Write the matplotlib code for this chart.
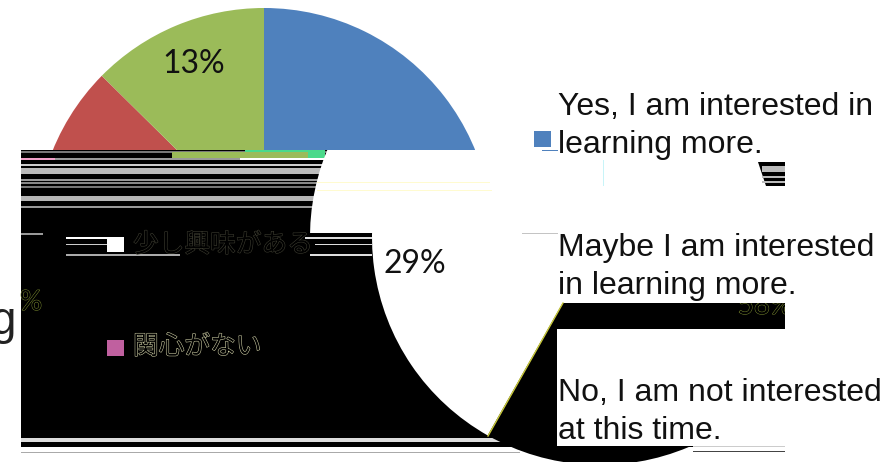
import matplotlib
matplotlib.use('Agg')
import matplotlib.pyplot as plt
import matplotlib.patheffects as pe
from matplotlib.patches import Rectangle, Polygon
from matplotlib.path import Path

W, H = 888, 462

# shares of the pie, clockwise from 12 o'clock (labels round them)
answers = ['Yes', 'Maybe', 'No']
shares = [58.2, 29.2, 12.6]
top_colors = ['#4F81BD', '#C0504D', '#9BBB59']
pct_labels = ['13%', '29%']

legend_en = ['Yes, I am interested in\nlearning more.',
             'Maybe I am interested\nin learning more.',
             'No, I am not interested\nat this time.']
legend_jp = ['少し興味がある', '関心がない']

plt.rcParams['font.family'] = ['Liberation Sans', 'DejaVu Sans']

fig = plt.figure(figsize=(W / 100, H / 100), dpi=100)
ax = fig.add_axes([0, 0, 1, 1])


def clipped_pie(cx, cy, r, colors, box, z=1):
    # y axis points down here, so counterclock gives clockwise on screen
    wedges, _ = ax.pie(shares, colors=colors, startangle=270, counterclock=True,
                       center=(cx, cy), radius=r, frame=True)
    x0, y0, x1, y1 = box
    clip = Path([(x0, y0), (x1, y0), (x1, y1), (x0, y1), (x0, y0)], closed=True)
    for w in wedges:
        w.set_clip_on(True)  # pie turns clipping off
        w.set_clip_path(clip, ax.transData)
        w.set_linewidth(0)
        w.set_zorder(z)
    return wedges


def band(x0, x1, y0, y1, color, z=3):
    ax.add_patch(Rectangle((x0, y0), x1 - x0, y1 - y0, fc=color, ec='none', zorder=z))


# upper intact part of the pie
clipped_pie(264, 236, 228, top_colors, (0, 0, W, 150))

# broken black block
band(21, 785, 150, 438, 'black', z=2)
band(21, 785, 441.5, 447, 'black', z=2)

# grey scan lines over the block
for y0, y1, c in [(151, 153, '#777777'), (158, 160, '#999999'), (164, 166, '#cccccc'),
                  (168, 173.5, '#bbbbbb'), (179, 180.5, '#999999'), (182, 183.5, '#888888'),
                  (186, 187.5, '#777777'), (196, 200.5, '#b5b5b5'), (206, 207.5, '#999999')]:
    band(21, 335, y0, y1, c)
band(21, 55, 158, 160, '#f0a0c8', z=4)
band(240, 325, 158, 160, '#ffffff', z=3.5)
band(172, 308, 152, 158, '#9BBB59', z=4)
band(245, 325, 150, 158, '#4BD98A', z=3.8)
band(21, 43, 233, 235, '#999999')
band(66, 107, 237, 239, '#ffffff')
band(66, 107, 244, 245, '#cccccc')
band(66, 180, 254, 256, '#aaaaaa')
for y0, y1, xa, xb in [(237, 239, 305, 372), (244, 245, 315, 372), (254, 256, 310, 372)]:
    band(xa, xb, y0, y1, '#dddddd', z=3)

# second copy of the pie, first wedge black, second white
clipped_pie(600, 237, 228, ['black', 'white', 'none'], (0, 232, 785, H), z=5)
# top slice of it, shifted left
clipped_pie(538, 237, 228, ['none', 'white', 'none'], (0, 150, W, 232.5), z=5)

# white panels behind the english legend
band(372, 785, 150, 232.5, 'white', z=6)
band(438, 785, 232, 303, 'white', z=6)
band(557, 785, 329, 446, 'white', z=6)
ax.add_patch(Polygon([(758, 162), (785, 162), (785, 186), (766, 186)], fc='black', ec='none', zorder=7))
for y0, y1 in [(166, 172), (176, 178), (181, 183)]:
    band(762, 785, y0, y1, '#bbbbbb', z=7.5)
band(317, 490, 181.5, 183, '#fffbd0', z=6.5)
band(317, 492, 189.5, 191, '#fffbd0', z=6.5)
band(522, 558, 232.5, 234, '#c4c4c4', z=6.5)
band(603, 604, 160, 186, '#c8f4f8', z=6.5)
band(542, 558, 149.5, 150.5, '#4F81BD', z=6.5)
ax.plot([488, 563], [436, 303], color='#c8c83c', lw=1, zorder=6)

# bottom lines
for y0, y1, c in [(438, 441.5, '#dddddd'), (451.5, 453, '#aaaaaa')]:
    band(21, 520, y0, y1, c, z=1)
band(693, 785, 446, 447, '#cccccc', z=6)
band(693, 785, 451, 452, '#444444', z=6)

# legend keys
band(534, 551, 131, 146.5, top_colors[0], z=8)
band(107, 124, 237, 252, 'white', z=8)
band(107, 124, 340, 356, '#C0609F', z=8)

# english legend
for y, s in zip([126, 267, 412], legend_en):
    ax.text(558, y, s, fontsize=23, color='#111111', va='center', ha='left', linespacing=1.32, zorder=9)
ax.text(-10, 322, 'g', fontsize=33, color='#222222', va='center', ha='left', zorder=9)

# japanese legend, only outlines survive on black
for y, s, c in zip([245, 347], legend_jp, ['#3c3c30', '#c8c8a0']):
    t = ax.text(133, y, s, fontsize=18.5, color='black', va='center', ha='left', zorder=8,
                family=['Noto Sans CJK JP', 'DejaVu Sans'])
    t.set_path_effects([pe.withStroke(linewidth=0.8, foreground=c)])

# labels
ax.text(194, 64, pct_labels[0], fontsize=23, color='#111111', ha='center', va='center', zorder=9,
        family=['Lato', 'DejaVu Sans'])
ax.text(415, 264, pct_labels[1], fontsize=23, color='#111111', ha='center', va='center', zorder=9,
        family=['Lato', 'DejaVu Sans'])
t = ax.text(31, 302, '%', fontsize=20, color='black', ha='center', va='center', zorder=4,
            family=['Lato', 'DejaVu Sans'])
t.set_path_effects([pe.withStroke(linewidth=0.7, foreground='#7a8a30')])
t = ax.text(765, 306, '58%', fontsize=20, color='black', ha='center', va='center', zorder=6.2,
            family=['Lato', 'DejaVu Sans'], clip_on=True)
t.set_path_effects([pe.withStroke(linewidth=0.7, foreground='#7a8a30')])
t.set_clip_path(Rectangle((557, 303), 228, 26, transform=ax.transData))

ax.set_xlim(0, W)
ax.set_ylim(H, 0)
ax.set_aspect('auto')
ax.axis('off')
fig.savefig('out.png', dpi=100, facecolor='white')
